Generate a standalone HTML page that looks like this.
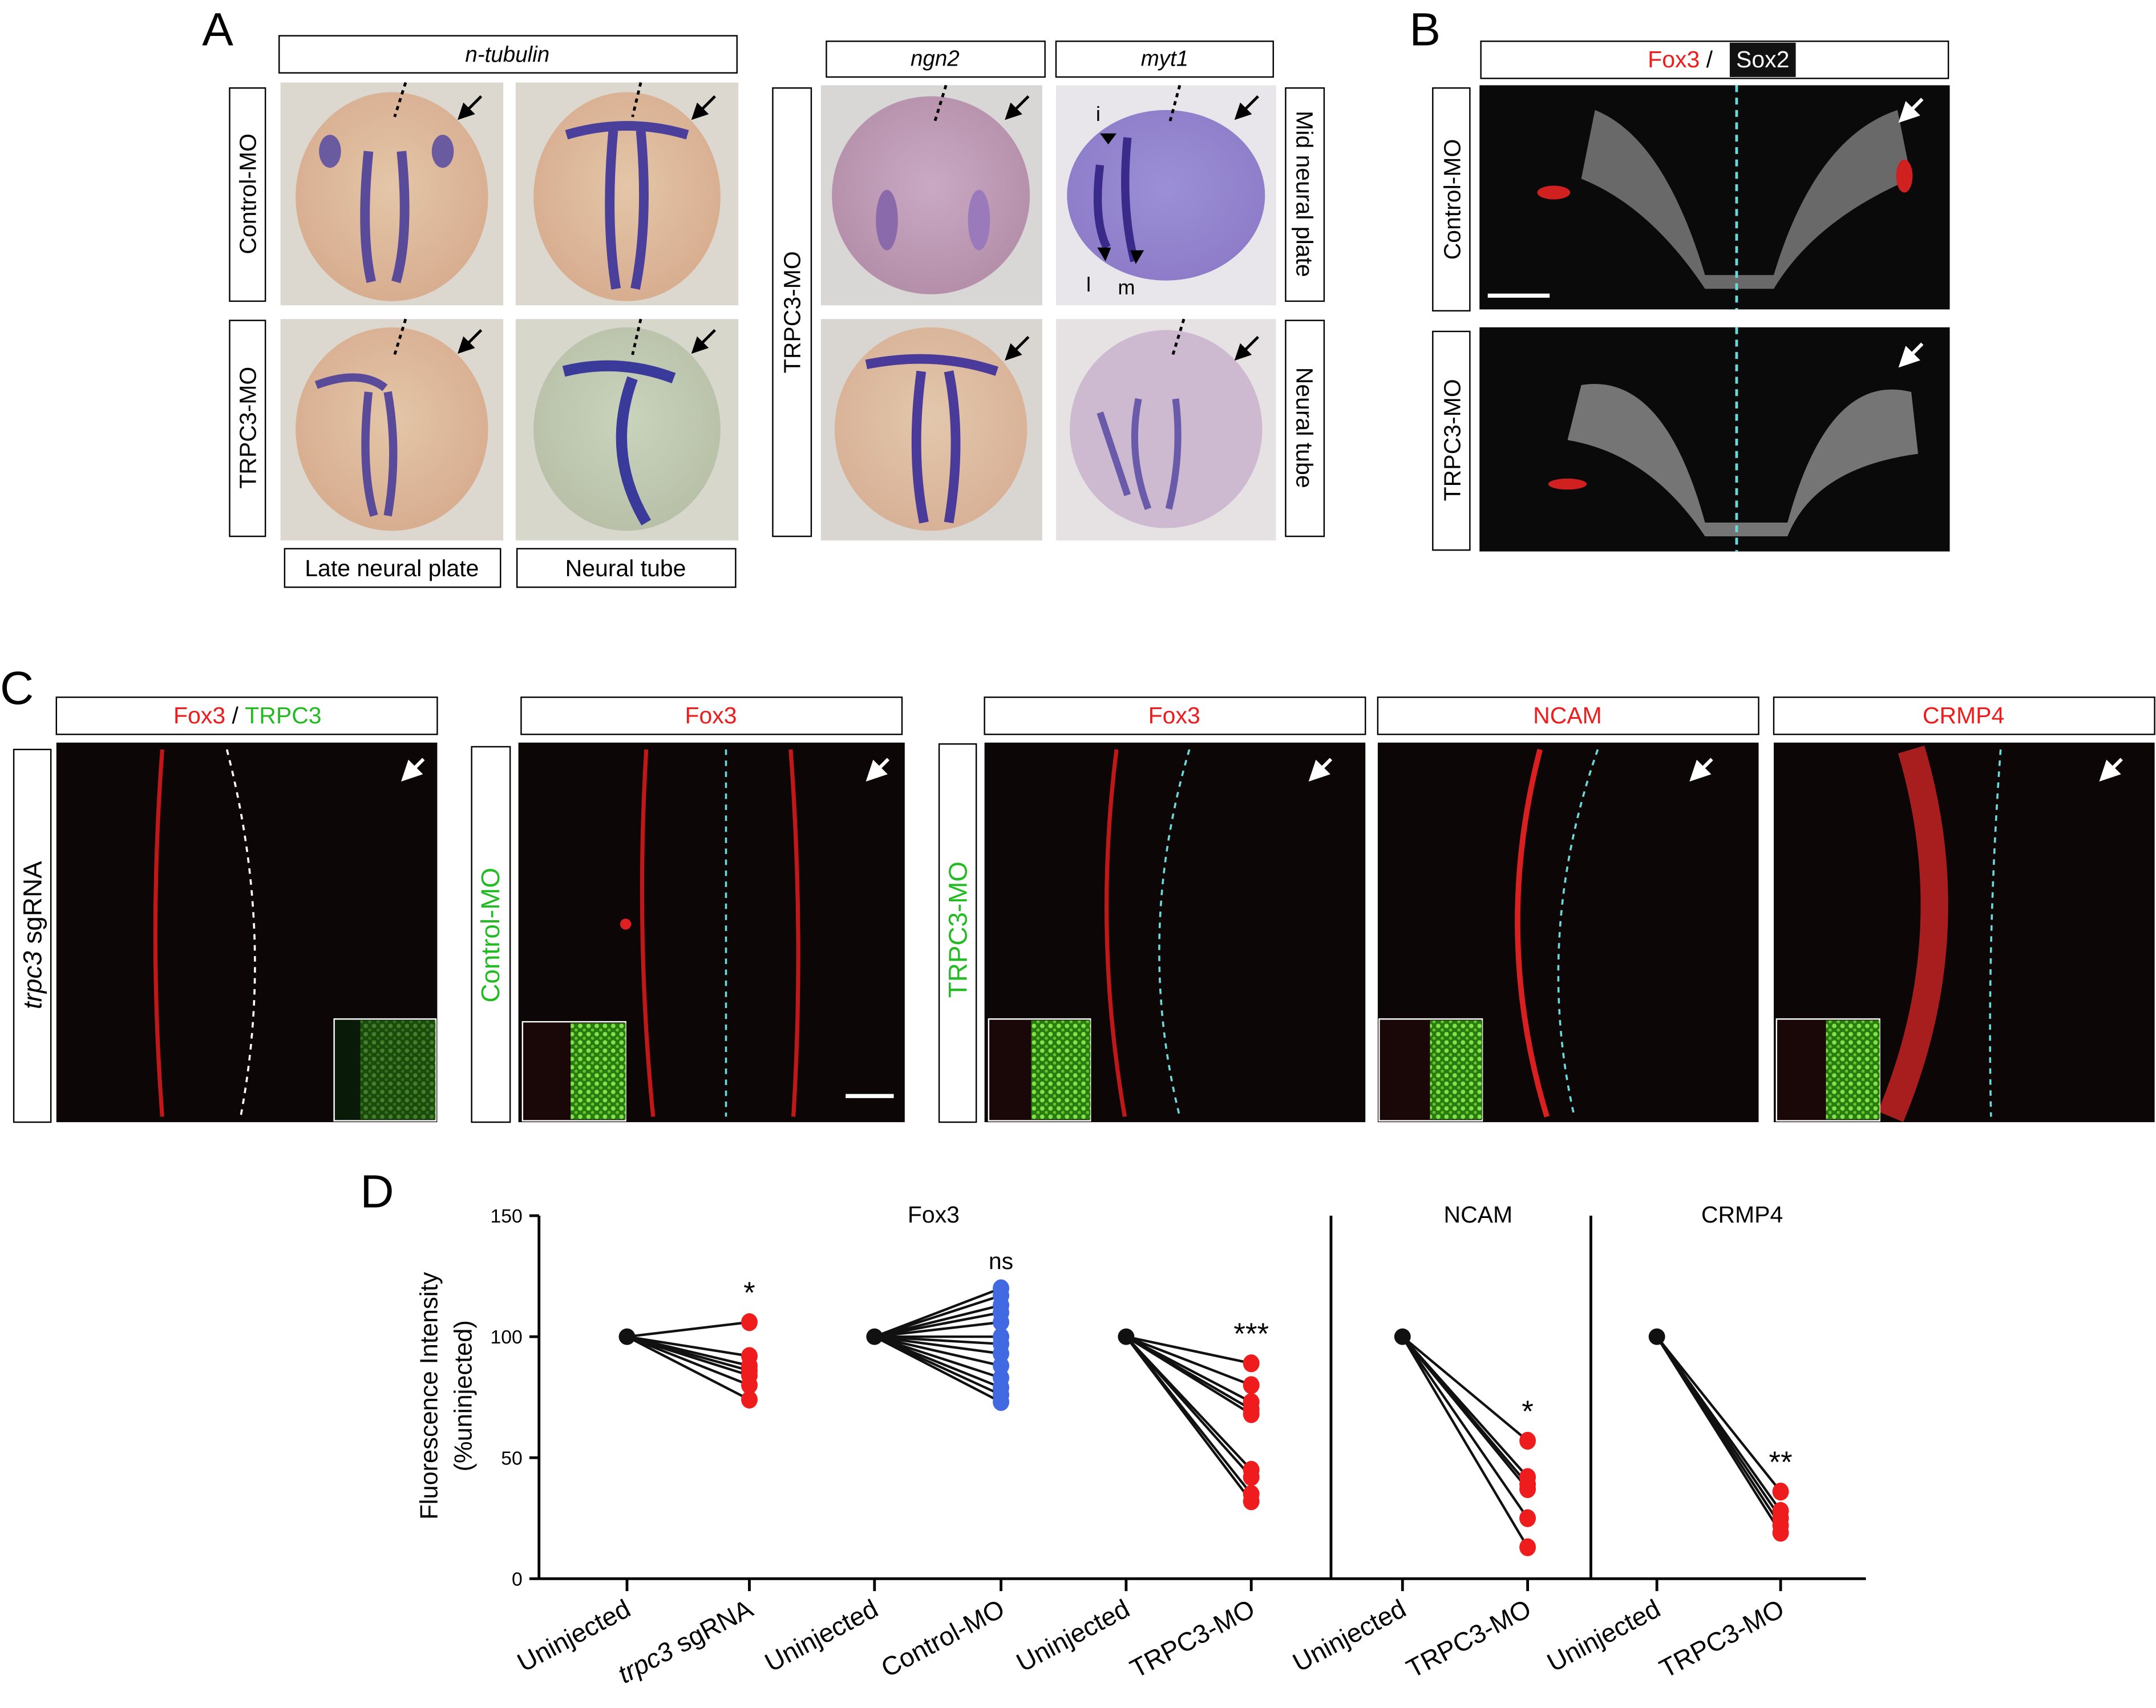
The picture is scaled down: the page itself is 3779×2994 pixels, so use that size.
<!DOCTYPE html>
<html><head><meta charset="utf-8"><style>
html,body{margin:0;padding:0;background:#fff}
svg{display:block;font-family:"Liberation Sans",Arial,sans-serif}
</style></head><body>
<svg id="fig" width="3779" height="2994" viewBox="0 0 1568 1242" preserveAspectRatio="none" xmlns="http://www.w3.org/2000/svg">
<defs>
<radialGradient id="emb" cx="50%" cy="45%" r="55%"><stop offset="0" stop-color="#c9a9c4"/><stop offset="1" stop-color="#b58fa9"/></radialGradient>
<radialGradient id="emb2" cx="50%" cy="45%" r="55%"><stop offset="0" stop-color="#9b8fd6"/><stop offset="1" stop-color="#8e7cc9"/></radialGradient>
<radialGradient id="emb3" cx="50%" cy="45%" r="55%"><stop offset="0" stop-color="#e4c6a8"/><stop offset="1" stop-color="#d8ad90"/></radialGradient>
<radialGradient id="emb4" cx="50%" cy="45%" r="55%"><stop offset="0" stop-color="#c9d4bc"/><stop offset="1" stop-color="#b8c0a8"/></radialGradient>
<pattern id="green" width="6" height="6" patternUnits="userSpaceOnUse"><rect width="6" height="6" fill="#2a7a10"/><circle cx="2" cy="2" r="1.6" fill="#7fe34a"/><circle cx="5" cy="5" r="1.2" fill="#5cc82e"/></pattern>
<marker id="ahb" markerWidth="6" markerHeight="6" refX="3" refY="3" orient="auto" markerUnits="strokeWidth"><path d="M0 0 L6 3 L0 6 z" fill="#000"/></marker>
<marker id="ahw" markerWidth="6" markerHeight="6" refX="3" refY="3" orient="auto" markerUnits="strokeWidth"><path d="M0 0 L6 3 L0 6 z" fill="#fff"/></marker>
</defs>

<!-- PANEL A -->
<g>
<text x="147" y="33" font-size="34">A</text>
<rect x="203" y="26" width="333" height="27" fill="#fff" stroke="#000"/>
<text x="369" y="45" font-size="16" font-style="italic" text-anchor="middle">n-tubulin</text>
<rect x="167" y="64" width="26" height="155" fill="#fff" stroke="#000"/>
<text transform="translate(186,141) rotate(-90)" font-size="17" text-anchor="middle">Control-MO</text>
<rect x="167" y="233" width="26" height="157" fill="#fff" stroke="#000"/>
<text transform="translate(186,311) rotate(-90)" font-size="17" text-anchor="middle">TRPC3-MO</text>
<rect x="207" y="399" width="157" height="28" fill="#fff" stroke="#000"/>
<text x="285" y="419" font-size="17" text-anchor="middle">Late neural plate</text>
<rect x="376" y="399" width="159" height="28" fill="#fff" stroke="#000"/>
<text x="455" y="419" font-size="17" text-anchor="middle">Neural tube</text>

<rect x="601" y="30" width="159" height="26" fill="#fff" stroke="#000"/>
<text x="680" y="48" font-size="16" font-style="italic" text-anchor="middle">ngn2</text>
<rect x="768" y="30" width="158" height="26" fill="#fff" stroke="#000"/>
<text x="847" y="48" font-size="16" font-style="italic" text-anchor="middle">myt1</text>
<rect x="562" y="64" width="28" height="326" fill="#fff" stroke="#000"/>
<text transform="translate(582,227) rotate(-90)" font-size="17" text-anchor="middle">TRPC3-MO</text>
<rect x="935" y="64" width="28" height="155" fill="#fff" stroke="#000"/>
<text transform="translate(943,141) rotate(90)" font-size="17" text-anchor="middle">Mid neural plate</text>
<rect x="935" y="233" width="28" height="157" fill="#fff" stroke="#000"/>
<text transform="translate(943,311) rotate(90)" font-size="17" text-anchor="middle">Neural tube</text>

<g>
<rect x="204" y="60" width="162" height="162" fill="#ddd8cf"/><ellipse cx="285" cy="143" rx="70" ry="76" fill="url(#emb3)"/>
<path d="M268 110 Q262 170 270 205 M292 110 Q298 170 288 205" stroke="#5a4a9a" stroke-width="7" fill="none"/>
<ellipse cx="240" cy="110" rx="8" ry="12" fill="#6a5aa0"/><ellipse cx="322" cy="110" rx="8" ry="12" fill="#6a5aa0"/></g>
<g>
<rect x="375" y="60" width="162" height="162" fill="#ddd8cf"/><ellipse cx="456" cy="143" rx="68" ry="76" fill="url(#emb3)"/>
<path d="M446 95 Q440 160 448 210 M466 95 Q472 160 462 210 M412 98 Q456 85 500 98" stroke="#4a3f9a" stroke-width="7" fill="none"/></g>
<g>
<rect x="204" y="232" width="162" height="161" fill="#ddd8cf"/><ellipse cx="285" cy="312" rx="70" ry="74" fill="url(#emb3)"/>
<path d="M268 285 Q262 340 272 375 M282 285 Q290 330 282 375 M230 280 Q262 268 280 282" stroke="#5a4a9a" stroke-width="6" fill="none"/></g>
<g>
<rect x="375" y="232" width="162" height="161" fill="#d7d7cc"/><ellipse cx="456" cy="312" rx="68" ry="74" fill="url(#emb4)"/>
<path d="M460 275 Q440 330 470 380 M410 270 Q450 260 490 275" stroke="#3a3a9a" stroke-width="8" fill="none"/></g>
<g>
<rect x="597" y="62" width="161" height="160" fill="#d9d6d6"/><ellipse cx="677" cy="142" rx="72" ry="72" fill="url(#emb)"/>
<ellipse cx="645" cy="160" rx="8" ry="22" fill="#8a6aaa"/><ellipse cx="712" cy="160" rx="8" ry="22" fill="#9a7aba"/></g>
<g>
<rect x="768" y="62" width="160" height="160" fill="#e8e6ea"/><ellipse cx="848" cy="142" rx="72" ry="62" fill="url(#emb2)"/>
<path d="M820 100 Q815 150 825 190 M800 120 Q795 160 805 180" stroke="#3a2a8a" stroke-width="6" fill="none"/>
<text x="797" y="88" font-size="15">i</text><text x="790" y="212" font-size="15">l</text><text x="813" y="214" font-size="15">m</text>
<path d="M800 97 l6 8 l6 -8 z M798 180 l6 10 l4 -10z M822 182 l4 10 l6 -10z" fill="#000"/></g>
<g>
<rect x="597" y="232" width="161" height="161" fill="#d9d6d2"/><ellipse cx="677" cy="312" rx="70" ry="74" fill="url(#emb3)" opacity="0.9"/>
<path d="M670 270 Q662 330 672 380 M690 270 Q700 320 690 380 M630 265 Q680 255 725 270" stroke="#4a3a9a" stroke-width="7" fill="none"/></g>
<g>
<rect x="768" y="232" width="160" height="161" fill="#e6e2e4"/><ellipse cx="848" cy="312" rx="70" ry="72" fill="#cdbad0"/>
<path d="M828 290 Q820 330 835 370 M855 290 Q860 330 850 370 M800 300 Q810 330 820 360" stroke="#6a5aaa" stroke-width="5" fill="none"/></g>
<g stroke="#000" stroke-width="2">
<path d="M295 60 L287 85 M466 60 L460 85 M295 232 L287 258 M466 232 L460 258 M688 62 L680 88 M858 62 L851 88 M861 232 L853 258" stroke-dasharray="3 3"/>
<path d="M350 70 l-13 13" marker-end="url(#ahb)"/>
<path d="M520 70 l-13 13" marker-end="url(#ahb)"/>
<path d="M350 240 l-13 13" marker-end="url(#ahb)"/>
<path d="M520 240 l-13 13" marker-end="url(#ahb)"/>
<path d="M748 70 l-13 13" marker-end="url(#ahb)"/>
<path d="M915 70 l-13 13" marker-end="url(#ahb)"/>
<path d="M748 245 l-13 13" marker-end="url(#ahb)"/>
<path d="M915 245 l-13 13" marker-end="url(#ahb)"/>
</g>
</g>

<!-- PANEL B -->
<g>
<text x="1025" y="33" font-size="34">B</text>
<rect x="1077" y="30" width="340" height="27" fill="#fff" stroke="#000"/>
<text x="1222" y="49" font-size="17" text-anchor="middle"><tspan fill="#ee1c1c">Fox3</tspan> / </text>
<rect x="1258" y="31" width="48" height="25" fill="#111"/><text x="1282" y="49" font-size="17" fill="#fff" text-anchor="middle">Sox2</text>
<rect x="1042" y="64" width="27" height="162" fill="#fff" stroke="#000"/>
<text transform="translate(1062,145) rotate(-90)" font-size="17" text-anchor="middle">Control-MO</text>
<rect x="1042" y="241" width="27" height="159" fill="#fff" stroke="#000"/>
<text transform="translate(1062,320) rotate(-90)" font-size="17" text-anchor="middle">TRPC3-MO</text>
<rect x="1076" y="62" width="342" height="163" fill="#0a0a0a"/>
<path d="M1160 80 Q1210 100 1240 200 L1290 200 Q1320 100 1380 80 L1390 130 Q1320 160 1290 210 L1240 210 Q1200 150 1150 130 Z" fill="#8a8a8a" opacity="0.75"/>
<ellipse cx="1130" cy="140" rx="12" ry="5" fill="#d02020"/><ellipse cx="1385" cy="128" rx="6" ry="12" fill="#d02020"/>
<rect x="1076" y="238" width="342" height="163" fill="#0a0a0a"/>
<path d="M1150 280 Q1210 270 1240 380 L1300 380 Q1330 270 1390 285 L1395 330 Q1320 340 1300 390 L1240 390 Q1200 330 1140 320 Z" fill="#9a9a9a" opacity="0.75"/>
<ellipse cx="1140" cy="352" rx="14" ry="4" fill="#d02020"/>
<path d="M1263 62 V225 M1263 238 V401" stroke="#6ed8d8" stroke-width="2" stroke-dasharray="5 4"/>
<path d="M1082 215 H1127" stroke="#fff" stroke-width="3"/>
<path d="M1398 72 l-12 12" stroke="#fff" stroke-width="2.5" marker-end="url(#ahw)"/>
<path d="M1398 250 l-12 12" stroke="#fff" stroke-width="2.5" marker-end="url(#ahw)"/>
</g>

<!-- PANEL C -->
<g>
<text x="0" y="512" font-size="34">C</text>
<rect x="41" y="507" width="277" height="27" fill="#fff" stroke="#000"/>
<text x="180" y="526" font-size="17" text-anchor="middle"><tspan fill="#ee1c1c">Fox3</tspan> / <tspan fill="#22bb22">TRPC3</tspan></text>
<rect x="379" y="507" width="277" height="27" fill="#fff" stroke="#000"/>
<text x="517" y="526" font-size="17" fill="#ee1c1c" text-anchor="middle">Fox3</text>
<rect x="716" y="507" width="277" height="27" fill="#fff" stroke="#000"/>
<text x="854" y="526" font-size="17" fill="#ee1c1c" text-anchor="middle">Fox3</text>
<rect x="1002" y="507" width="277" height="27" fill="#fff" stroke="#000"/>
<text x="1140" y="526" font-size="17" fill="#ee1c1c" text-anchor="middle">NCAM</text>
<rect x="1290" y="507" width="277" height="27" fill="#fff" stroke="#000"/>
<text x="1428" y="526" font-size="17" fill="#ee1c1c" text-anchor="middle">CRMP4</text>
<rect x="10" y="545" width="27" height="271" fill="#fff" stroke="#000"/>
<text transform="translate(30,680) rotate(-90)" font-size="19" text-anchor="middle"><tspan font-style="italic">trpc3</tspan> sgRNA</text>
<rect x="343" y="543" width="28" height="273" fill="#fff" stroke="#000"/>
<text transform="translate(363,680) rotate(-90)" font-size="19" fill="#22bb22" text-anchor="middle">Control-MO</text>
<rect x="683" y="541" width="27" height="275" fill="#fff" stroke="#000"/>
<text transform="translate(703,676) rotate(-90)" font-size="19" fill="#22bb22" text-anchor="middle">TRPC3-MO</text>

<rect x="41" y="540" width="277" height="276" fill="#0c0606"/>
<path d="M118 545 Q108 680 118 812" stroke="#c01818" stroke-width="3" fill="none"/>
<path d="M165 545 Q200 680 175 812" stroke="#fff" stroke-width="1.5" stroke-dasharray="4 4" fill="none"/>
<rect x="243" y="741" width="74" height="74" fill="#0a1a08" stroke="#fff"/><rect x="262" y="742" width="55" height="72" fill="url(#green)" opacity="0.5"/>

<rect x="377" y="540" width="281" height="276" fill="#0c0606"/>
<path d="M470 545 Q462 680 475 812 M575 545 Q585 680 577 812" stroke="#c01818" stroke-width="3" fill="none"/>
<circle cx="455" cy="672" r="4" fill="#e02020"/>
<path d="M528 545 V812" stroke="#6ed8d8" stroke-width="1.5" stroke-dasharray="4 4"/>
<rect x="380" y="743" width="75" height="72" fill="#1a0808" stroke="#fff"/><rect x="415" y="744" width="40" height="70" fill="url(#green)"/>
<path d="M615 797 H650" stroke="#fff" stroke-width="3"/>

<rect x="716" y="540" width="277" height="276" fill="#0c0606"/>
<path d="M812 545 Q795 680 818 812" stroke="#c01818" stroke-width="3" fill="none"/>
<path d="M865 545 Q825 680 858 812" stroke="#6ed8d8" stroke-width="1.5" stroke-dasharray="4 4" fill="none"/>
<rect x="719" y="741" width="74" height="74" fill="#1a0808" stroke="#fff"/><rect x="750" y="742" width="43" height="72" fill="url(#green)"/>

<rect x="1002" y="540" width="277" height="276" fill="#0c0606"/>
<path d="M1120 545 Q1085 680 1125 812" stroke="#d82020" stroke-width="4" fill="none"/>
<path d="M1162 545 Q1115 680 1145 812" stroke="#6ed8d8" stroke-width="1.5" stroke-dasharray="4 4" fill="none"/>
<rect x="1003" y="741" width="75" height="74" fill="#1a0808" stroke="#fff"/><rect x="1040" y="742" width="38" height="72" fill="url(#green)"/>

<rect x="1290" y="540" width="277" height="276" fill="#0c0606"/>
<path d="M1390 545 Q1430 680 1375 812" stroke="#c42222" stroke-width="20" fill="none" opacity="0.85"/>
<path d="M1455 545 Q1445 680 1448 812" stroke="#6ed8d8" stroke-width="1.5" stroke-dasharray="4 4" fill="none"/>
<rect x="1292" y="741" width="75" height="74" fill="#1a0808" stroke="#fff"/><rect x="1328" y="742" width="39" height="72" fill="url(#green)"/>
<g stroke="#fff" stroke-width="2.5">
<path d="M308 552 l-11 11" marker-end="url(#ahw)"/>
<path d="M646 552 l-11 11" marker-end="url(#ahw)"/>
<path d="M968 552 l-11 11" marker-end="url(#ahw)"/>
<path d="M1245 552 l-11 11" marker-end="url(#ahw)"/>
<path d="M1543 552 l-11 11" marker-end="url(#ahw)"/>
</g>
</g>

<!-- PANEL D -->
<g id="chart">
<text x="262" y="878" font-size="34">D</text>
</g>
</svg>
<script>
const yTicks=[0,50,100,150];
const xCategories=["Uninjected","trpc3 sgRNA","Uninjected","Control-MO","Uninjected","TRPC3-MO","Uninjected","TRPC3-MO","Uninjected","TRPC3-MO"];
const groupNames=["Fox3","NCAM","CRMP4"];
const baseline=100;
const sgrnaValues=[106,92,88,86,84,80,74];
const controlMoValues=[120,117,113,110,106,100,97,93,88,83,79,76,73];
const trpc3Fox3Values=[89,80,73,70,68,45,42,35,32];
const ncamValues=[57,42,39,37,25,13];
const crmp4Values=[36,28,25,22,19];
const significance=["*","ns","***","*","**"];

const NS="http://www.w3.org/2000/svg";
const g=document.getElementById('chart');
const X0=392,Y0=1148,YT=884,XE=1357;
const xPos=[456,545,636,728,819,910,1020,1111,1205,1295];
function yS(v){return Y0-(v/150)*(Y0-YT);}
function mk(t,a,p){const e=document.createElementNS(NS,t);for(const k in a)e.setAttribute(k,a[k]);(p||g).appendChild(e);return e;}

let e;
e=mk('line',{x1:X0,y1:YT,x2:X0,y2:Y0,stroke:'#000','stroke-width':2});


e=mk('line',{x1:X0,y1:Y0,x2:XE,y2:Y0,stroke:'#000','stroke-width':2});


[968,1157].forEach(x=>{
  e=mk('line',{x1:x,y1:YT,x2:x,y2:Y0,stroke:'#000','stroke-width':2});
  
  
});
yTicks.forEach(v=>{
  mk('line',{x1:X0-7,y1:yS(v),x2:X0,y2:yS(v),stroke:'#000','stroke-width':2});
  e=mk('text',{x:X0-12,y:yS(v)+5,'font-size':14,'text-anchor':'end'});
  e.textContent=v;
  
  
});
e=mk('text',{transform:'translate(318,1015) rotate(-90)','font-size':18,'text-anchor':'middle'});
e.textContent='Fluorescence Intensity';


e=mk('text',{transform:'translate(343,1015) rotate(-90)','font-size':18,'text-anchor':'middle'});
e.textContent='(%uninjected)';


[679,1075,1267].forEach((x,i)=>{
  e=mk('text',{x:x,y:889,'font-size':17,'text-anchor':'middle'});
  e.textContent=groupNames[i];
  
  
});
xCategories.forEach((c,i)=>{
  const x=xPos[i];
  mk('line',{x1:x,y1:Y0,x2:x,y2:Y0+9,stroke:'#000','stroke-width':2});
  e=mk('text',{transform:`translate(${x+4},${Y0+26}) rotate(-28)`,'font-size':19,'text-anchor':'end'});
  if(c==='trpc3 sgRNA'){e.innerHTML='<tspan font-style="italic">trpc3</tspan> sgRNA';}else e.textContent=c;
  
  
});
const series=[[sgrnaValues,0,'#ee1c1c'],[controlMoValues,2,'#4169e1'],[trpc3Fox3Values,4,'#ee1c1c'],[ncamValues,6,'#ee1c1c'],[crmp4Values,8,'#ee1c1c']];
series.forEach(([vals,i,col],si)=>{
  const x1=xPos[i],x2=xPos[i+1];
  vals.forEach(v=>{
    e=mk('line',{x1:x1,y1:yS(baseline),x2:x2,y2:yS(v),stroke:'#111','stroke-width':1.8});
    
    
  });
  e=mk('circle',{cx:x1,cy:yS(baseline),r:6,fill:'#111'});
  
  
  vals.forEach(v=>{
    e=mk('ellipse',{cx:x2,cy:yS(v),rx:6,ry:6.5,fill:col});
    
    
  });
  const top=Math.max(...vals);
  e=mk('text',{x:x2,y:yS(top)-14,'font-size':significance[si]==='ns'?17:22,'text-anchor':'middle'});
  e.textContent=significance[si];
  
  
});
</script>
</body></html>
